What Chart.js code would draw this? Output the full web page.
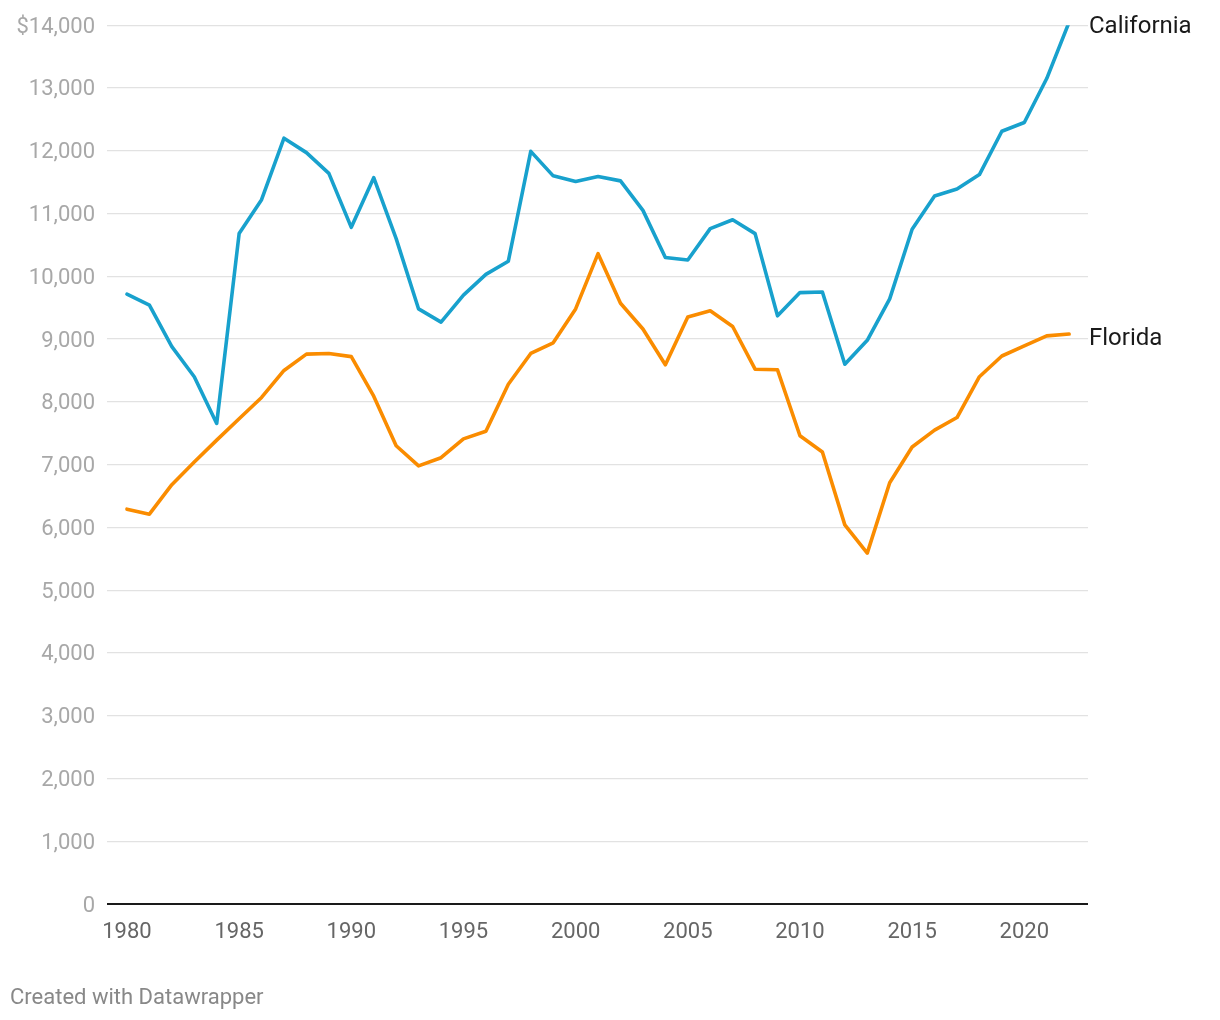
<!DOCTYPE html>
<html>
<head>
<meta charset="utf-8">
<script src="https://cdn.jsdelivr.net/npm/chart.js@4/dist/chart.umd.min.js"></script>
<style>
  html, body { margin: 0; padding: 0; background: #fff; }
  #wrap { position: relative; width: 1220px; height: 1020px; }
  #credit { position: absolute; left: 10px; top: 984px; font-family: Roboto, sans-serif; font-size: 22px; line-height: 26px; color: #888; }
</style>
</head>
<body>
<div id="wrap">
  <canvas id="c" width="1220" height="1020"></canvas>
  <div id="credit">Created with Datawrapper</div>
</div>
<script>
const years = [];
for (let y = 1980; y <= 2022; y++) years.push(y);

const california = [9715, 9540, 8880, 8400, 7656, 10680, 11220, 12200, 11970, 11640,
  10780, 11570, 10600, 9480, 9270, 9700, 10030, 10240, 11990, 11600,
  11510, 11590, 11520, 11050, 10300, 10260, 10760, 10900, 10680, 9370,
  9740, 9750, 8600, 8980, 9640, 10750, 11280, 11390, 11620, 12310,
  12450, 13150, 14050];

const florida = [6290, 6210, 6680, 7040, 7390, 7730, 8070, 8500, 8760, 8770,
  8720, 8090, 7300, 6980, 7110, 7410, 7530, 8280, 8770, 8940,
  9480, 10360, 9570, 9160, 8590, 9350, 9450, 9200, 8520, 8510,
  7460, 7200, 6040, 5590, 6710, 7280, 7550, 7750, 8400, 8730,
  8890, 9050, 9080];

const seriesNames = ['California', 'Florida'];
const seriesColors = ['#18a1cd', '#fa8c00'];
const xTicks = [1980, 1985, 1990, 1995, 2000, 2005, 2010, 2015, 2020];
const yMax = 14000;

const endLabels = {
  id: 'endLabels',
  afterDatasetsDraw(chart) {
    const ctx = chart.ctx;
    ctx.save();
    ctx.font = '24px Roboto';
    ctx.fillStyle = '#1a1a1a';
    ctx.textBaseline = 'middle';
    ctx.textAlign = 'left';
    chart.data.datasets.forEach((ds, i) => {
      const meta = chart.getDatasetMeta(i);
      const last = meta.data[meta.data.length - 1];
      ctx.fillText(ds.label, chart.chartArea.right + 1, last.y + 5);
    });
    ctx.restore();
  }
};

new Chart(document.getElementById('c'), {
  type: 'line',
  data: {
    datasets: [
      { label: seriesNames[0], data: years.map((y, i) => ({ x: y, y: california[i] })), borderColor: seriesColors[0], borderWidth: 3.6, pointRadius: 0, tension: 0, fill: false, borderJoinStyle: 'round', borderCapStyle: 'round' },
      { label: seriesNames[1], data: years.map((y, i) => ({ x: y, y: florida[i] })), borderColor: seriesColors[1], borderWidth: 3.6, pointRadius: 0, tension: 0, fill: false, borderJoinStyle: 'round', borderCapStyle: 'round' }
    ]
  },
  options: {
    responsive: false,
    animation: false,
    layout: { padding: { top: 25, right: 132, bottom: 0, left: 0 } },
    plugins: { legend: { display: false }, tooltip: { enabled: false } },
    scales: {
      x: {
        type: 'linear',
        min: 1979.11,
        max: 2022.84,
        afterBuildTicks: (s) => { s.ticks = xTicks.map(v => ({ value: v })); },
        afterFit: (s) => { s.height = 116; },
        grid: { display: false, drawTicks: false },
        border: { display: false },
        ticks: { font: { family: 'Roboto', size: 22 }, color: '#666', padding: 15, maxRotation: 0, autoSkip: false, callback: (v) => String(v) }
      },
      y: {
        min: 0,
        max: yMax,
        afterFit: (s) => { s.width = 107; },
        grid: {
          drawTicks: false,
          color: (c) => c.tick && c.tick.value === 0 ? '#1a1a1a' : '#e2e2e2',
          lineWidth: (c) => c.tick && c.tick.value === 0 ? 2 : 1.2
        },
        border: { display: false },
        ticks: {
          stepSize: 1000,
          font: { family: 'Roboto', size: 22 },
          color: '#a8a8a8',
          padding: 12,
          labelOffset: 2,
          callback: (v) => (v === yMax ? '$' : '') + v.toLocaleString('en-US')
        }
      }
    }
  },
  plugins: [endLabels]
});
</script>
</body>
</html>
